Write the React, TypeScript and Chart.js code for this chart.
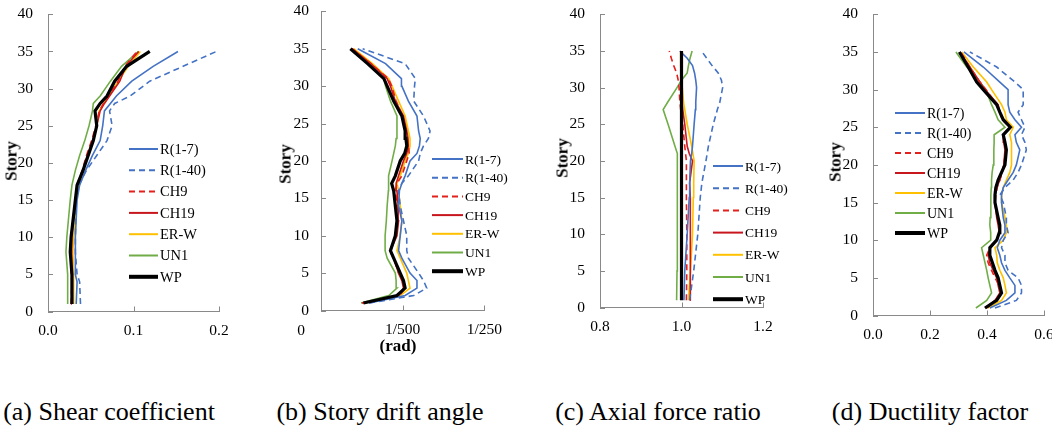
import { useEffect, useRef } from "react";
import { Chart, registerables } from "chart.js";

Chart.register(...registerables);

const SERIES = ["R(1-7)", "R(1-40)", "CH9", "CH19", "ER-W", "UN1", "WP"];
const COLORS = ["#4472C4", "#4472C4", "#E3201C", "#C8161D", "#FFC000", "#70AD47", "#000000"];
const DASHED = [false, true, true, false, false, false, false];
const STORY_TICKS = [0, 5, 10, 15, 20, 25, 30, 35, 40];

// (a) shear coefficient
const SHEAR_STORIES = [1, 4, 5, 8, 10, 15, 17, 19, 21, 23, 25, 27, 28, 29, 31, 33, 35];
const SHEAR_R17 = [0.033, 0.034, 0.032, 0.032, 0.032, 0.034, 0.037, 0.044, 0.052, 0.061, 0.064, 0.066, 0.073, 0.08, 0.098, 0.123, 0.152];
const SHEAR_R140 = [0.038, 0.037, 0.034, 0.032, 0.032, 0.033, 0.036, 0.045, 0.057, 0.069, 0.075, 0.072, 0.078, 0.096, 0.119, 0.158, 0.197];
const SHEAR_CH9 = [0.027, 0.028, 0.027, 0.027, 0.027, 0.032, 0.034, 0.04, 0.045, 0.051, 0.056, 0.06, 0.065, 0.071, 0.082, 0.09, 0.104];
const SHEAR_CH19 = [0.028, 0.028, 0.028, 0.027, 0.028, 0.032, 0.034, 0.041, 0.046, 0.052, 0.057, 0.061, 0.066, 0.072, 0.084, 0.091, 0.106];
const SHEAR_ERW = [0.03, 0.03, 0.03, 0.029, 0.03, 0.033, 0.036, 0.041, 0.047, 0.053, 0.057, 0.06, 0.065, 0.071, 0.082, 0.094, 0.108];
const SHEAR_UN1 = [0.023, 0.023, 0.023, 0.021, 0.022, 0.026, 0.028, 0.032, 0.037, 0.043, 0.048, 0.052, 0.053, 0.061, 0.073, 0.086, 0.106];
const SHEAR_WP = [0.028, 0.028, 0.028, 0.026, 0.027, 0.032, 0.034, 0.041, 0.047, 0.053, 0.057, 0.055, 0.061, 0.069, 0.078, 0.092, 0.119];
const SHEAR_TICKS = [0, 0.1, 0.2];

// (b) story drift angle, in 1/1000 rad
const DRIFT_STORIES = [1, 2, 3, 4, 5, 7, 8, 10, 12, 14, 16, 17, 18, 20, 21, 22, 23, 24, 26, 28, 30, 31, 33, 35];
const DRIFT_R17 = [1.18, 2.06, 2.35, 2.35, 2.18, 1.98, 1.9, 1.94, 1.98, 1.9, 1.92, 1.98, 2.06, 2.18, 2.35, 2.41, 2.43, 2.39, 2.35, 2.14, 1.98, 1.97, 1.58, 0.9];
const DRIFT_R140 = [1.18, 2.27, 2.59, 2.51, 2.39, 2.14, 2.1, 2.1, 2.02, 1.94, 1.9, 1.98, 2.14, 2.39, 2.43, 2.51, 2.63, 2.67, 2.51, 2.27, 2.29, 2.31, 2.06, 1.02];
const DRIFT_CH9 = [1.0, 1.92, 2.06, 2.0, 1.9, 1.78, 1.68, 1.84, 1.89, 1.87, 1.82, 1.86, 1.98, 2.1, 2.16, 2.14, 2.1, 2.06, 2.0, 1.84, 1.73, 1.65, 1.22, 0.76];
const DRIFT_CH19 = [1.02, 1.9, 2.02, 1.98, 1.9, 1.78, 1.7, 1.86, 1.9, 1.89, 1.86, 1.84, 1.9, 2.02, 2.1, 2.14, 2.13, 2.1, 2.02, 1.82, 1.7, 1.62, 1.22, 0.76];
const DRIFT_ERW = [1.06, 1.94, 2.18, 2.14, 2.1, 1.94, 1.86, 1.94, 1.98, 1.94, 1.9, 1.86, 1.94, 2.06, 2.14, 2.18, 2.18, 2.14, 2.06, 1.9, 1.74, 1.66, 1.26, 0.8];
const DRIFT_UN1 = [0.98, 1.66, 1.86, 1.84, 1.82, 1.62, 1.57, 1.57, 1.6, 1.62, 1.65, 1.65, 1.66, 1.74, 1.78, 1.82, 1.84, 1.86, 1.86, 1.7, 1.58, 1.54, 1.18, 0.74];
const DRIFT_WP = [1.04, 1.86, 2.06, 2.02, 1.94, 1.78, 1.7, 1.82, 1.86, 1.82, 1.78, 1.73, 1.82, 1.94, 2.05, 2.1, 2.08, 2.06, 1.98, 1.78, 1.62, 1.54, 1.14, 0.72];
const DRIFT_TICKS = [0, 2, 4];
const DRIFT_LABELS = ["", "1/500", "1/250"];

// (c) axial force ratio
const AXIAL_STORIES = [1, 5, 10, 15, 17, 20, 21, 22, 25, 27, 28, 30, 31, 32, 33, 34, 35];
const AXIAL_R17 = [1.006, 1.008, 1.014, 1.019, 1.02, 1.022, 1.025, 1.027, 1.031, 1.034, 1.035, 1.037, 1.035, 1.032, 1.027, 1.014, 0.996];
const AXIAL_R140 = [1.02, 1.03, 1.04, 1.046, 1.05, 1.06, 1.063, 1.066, 1.078, 1.088, 1.094, 1.101, 1.098, 1.09, 1.075, 1.062, 1.049];
const AXIAL_CH9 = [1.012, 1.013, 1.013, 1.012, 1.012, 1.012, 1.01, 1.008, 1.003, 0.998, 0.996, 0.994, 0.992, 0.988, 0.981, 0.975, 0.97];
const AXIAL_CH19 = [1.023, 1.022, 1.022, 1.021, 1.02, 1.027, 1.019, 1.014, 1.008, 1.003, 1.001, 1.0, 1.0, 1.0, 1.0, 1.0, 1.0];
const AXIAL_ERW = [1.017, 1.022, 1.027, 1.029, 1.03, 1.031, 1.028, 1.025, 1.014, 1.008, 1.005, 1.002, 1.0, 0.999, 0.998, 0.998, 0.998];
const AXIAL_UN1 = [0.988, 0.989, 0.989, 0.99, 0.99, 0.99, 0.99, 0.984, 0.967, 0.955, 0.966, 0.989, 1.0, 1.014, 1.017, 1.021, 1.026];
const AXIAL_WP = [1.0, 1.0, 1.0, 1.0, 1.0, 1.0, 1.0, 1.0, 1.0, 1.0, 1.0, 1.0, 1.0, 1.0, 1.0, 1.0, 1.0];
const AXIAL_TICKS = [0.8, 1.0, 1.2];

// (d) ductility factor
const DUCT_STORIES = [1, 2, 3, 4, 5, 6, 7, 8, 9, 10, 11, 12, 13, 15, 16, 17, 18, 19, 20, 22, 23, 24, 25, 26, 27, 28, 30, 31, 33, 35];
const DUCT_R17 = [0.41, 0.468, 0.498, 0.498, 0.48, 0.463, 0.451, 0.445, 0.436, 0.445, 0.463, 0.463, 0.457, 0.451, 0.451, 0.457, 0.474, 0.492, 0.503, 0.515, 0.503, 0.498, 0.521, 0.498, 0.48, 0.474, 0.474, 0.445, 0.387, 0.319];
const DUCT_R140 = [0.428, 0.503, 0.521, 0.521, 0.509, 0.474, 0.463, 0.463, 0.451, 0.457, 0.474, 0.468, 0.468, 0.457, 0.445, 0.463, 0.492, 0.509, 0.521, 0.538, 0.533, 0.521, 0.533, 0.521, 0.509, 0.527, 0.527, 0.498, 0.434, 0.34];
const DUCT_CH9 = [0.399, 0.431, 0.447, 0.443, 0.428, 0.416, 0.404, 0.399, 0.41, 0.436, 0.443, 0.443, 0.436, 0.428, 0.431, 0.436, 0.445, 0.454, 0.459, 0.466, 0.463, 0.459, 0.48, 0.454, 0.445, 0.436, 0.396, 0.375, 0.34, 0.308];
const DUCT_CH19 = [0.393, 0.428, 0.445, 0.439, 0.434, 0.422, 0.41, 0.404, 0.413, 0.434, 0.443, 0.439, 0.434, 0.428, 0.428, 0.434, 0.445, 0.452, 0.459, 0.463, 0.459, 0.457, 0.48, 0.457, 0.445, 0.439, 0.393, 0.375, 0.34, 0.305];
const DUCT_ERW = [0.404, 0.451, 0.468, 0.463, 0.457, 0.445, 0.436, 0.434, 0.428, 0.457, 0.468, 0.468, 0.463, 0.451, 0.451, 0.457, 0.468, 0.48, 0.486, 0.486, 0.486, 0.48, 0.492, 0.468, 0.463, 0.451, 0.416, 0.399, 0.352, 0.311];
const DUCT_UN1 = [0.361, 0.399, 0.416, 0.41, 0.404, 0.399, 0.393, 0.387, 0.381, 0.413, 0.413, 0.41, 0.411, 0.413, 0.414, 0.415, 0.416, 0.418, 0.422, 0.424, 0.425, 0.425, 0.463, 0.439, 0.428, 0.416, 0.396, 0.375, 0.329, 0.291];
const DUCT_WP = [0.393, 0.434, 0.451, 0.445, 0.439, 0.428, 0.419, 0.41, 0.41, 0.434, 0.443, 0.445, 0.439, 0.428, 0.428, 0.431, 0.439, 0.451, 0.463, 0.468, 0.463, 0.457, 0.482, 0.457, 0.445, 0.434, 0.387, 0.364, 0.334, 0.303];
const DUCT_TICKS = [0, 0.2, 0.4, 0.6];

const SERIF = "'Liberation Serif', 'Times New Roman', serif";
const AXIS = "#898989";

interface Area { left: number; right: number; top: number; bottom: number }
interface LegendSpec { x: number; y: number; gap: number; len: number; font: number }
interface PanelSpec {
  stories: number[];
  series: number[][];
  xTicks: number[];
  xLabel: (v: number, i: number) => string;
  area: Area;
  yPad: number;
  legend: LegendSpec;
}

const PANELS: PanelSpec[] = [
  {
    stories: SHEAR_STORIES,
    series: [SHEAR_R17, SHEAR_R140, SHEAR_CH9, SHEAR_CH19, SHEAR_ERW, SHEAR_UN1, SHEAR_WP],
    xTicks: SHEAR_TICKS,
    xLabel: (v) => v.toFixed(1),
    area: { left: 48, right: 219, top: 6, bottom: 311.5 },
    yPad: 15,
    legend: { x: 129, y: 149, gap: 21.3, len: 29, font: 14.5 },
  },
  {
    stories: DRIFT_STORIES,
    series: [DRIFT_R17, DRIFT_R140, DRIFT_CH9, DRIFT_CH19, DRIFT_ERW, DRIFT_UN1, DRIFT_WP],
    xTicks: DRIFT_TICKS,
    xLabel: (_v, i) => DRIFT_LABELS[i],
    area: { left: 321, right: 487, top: 6, bottom: 310.5 },
    yPad: 12,
    legend: { x: 432, y: 159, gap: 18.7, len: 31, font: 13.5 },
  },
  {
    stories: AXIAL_STORIES,
    series: [AXIAL_R17, AXIAL_R140, AXIAL_CH9, AXIAL_CH19, AXIAL_ERW, AXIAL_UN1, AXIAL_WP],
    xTicks: AXIAL_TICKS,
    xLabel: (v) => v.toFixed(1),
    area: { left: 600, right: 763, top: 5.5, bottom: 307.5 },
    yPad: 15,
    legend: { x: 713, y: 166, gap: 22.2, len: 30, font: 13.5 },
  },
  {
    stories: DUCT_STORIES,
    series: [DUCT_R17, DUCT_R140, DUCT_CH9, DUCT_CH19, DUCT_ERW, DUCT_UN1, DUCT_WP],
    xTicks: DUCT_TICKS,
    xLabel: (v) => v.toFixed(1),
    area: { left: 873, right: 1044, top: 6, bottom: 315.5 },
    yPad: 15,
    legend: { x: 895, y: 113, gap: 20, len: 30, font: 14 },
  },
];

const C_TOP = -10;
const C_HEIGHT = 370;
const Y_AXIS_W = 40;
const X_AXIS_H = 30;

function Panel({ spec }: { spec: PanelSpec }) {
  const canvasRef = useRef<HTMLCanvasElement>(null);
  const { area } = spec;
  const cLeft = area.left - 60;
  const cWidth = area.right + 25 - cLeft;

  useEffect(() => {
    if (!canvasRef.current) return;

    const insideTicks = {
      id: "insideTicks",
      beforeDatasetsDraw(chart: any) {
        const { ctx, chartArea, scales } = chart;
        ctx.save();
        ctx.strokeStyle = AXIS;
        ctx.lineWidth = 1;
        ctx.beginPath();
        scales.x.ticks.forEach((t: any) => {
          const px = Math.round(scales.x.getPixelForValue(t.value)) + 0.5;
          ctx.moveTo(px, chartArea.bottom);
          ctx.lineTo(px, chartArea.bottom - 5);
        });
        scales.y.ticks.forEach((t: any) => {
          const py = Math.round(scales.y.getPixelForValue(t.value)) + 0.5;
          ctx.moveTo(chartArea.left, py);
          ctx.lineTo(chartArea.left + 5, py);
        });
        ctx.stroke();
        ctx.restore();
      },
    };

    const inlineLegend = {
      id: "inlineLegend",
      afterDatasetsDraw(chart: any) {
        const ctx = chart.ctx;
        const lg = spec.legend;
        ctx.save();
        ctx.font = `${lg.font}px ${SERIF}`;
        ctx.textBaseline = "middle";
        ctx.fillStyle = "#000";
        SERIES.forEach((name, i) => {
          const x = lg.x - cLeft;
          const y = lg.y - C_TOP + i * lg.gap;
          ctx.beginPath();
          ctx.strokeStyle = COLORS[i];
          ctx.lineWidth = i === 6 ? 4 : 2;
          ctx.setLineDash(DASHED[i] ? [6, 4] : []);
          ctx.moveTo(x, y);
          ctx.lineTo(x + lg.len, y);
          ctx.stroke();
          ctx.setLineDash([]);
          ctx.fillText(name, x + lg.len + 2, y + 1);
        });
        ctx.restore();
      },
    };

    const tickFont = { family: SERIF, size: 15.5 };
    const xs = spec.xTicks;

    const chart = new Chart(canvasRef.current, {
      type: "scatter",
      data: {
        datasets: SERIES.map((name, i) => ({
          label: name,
          data: spec.stories.map((s, k) => ({ x: spec.series[i][k], y: s })),
          showLine: true,
          borderColor: COLORS[i],
          backgroundColor: COLORS[i],
          borderWidth: i === 6 ? 3.2 : 1.6,
          borderDash: DASHED[i] ? [6, 4] : [],
          pointRadius: 0,
          order: i === 6 ? 0 : 1,
        })),
      },
      options: {
        responsive: false,
        animation: false,
        layout: {
          autoPadding: false,
          padding: {
            left: 60 - Y_AXIS_W,
            right: 25,
            top: area.top - C_TOP,
            bottom: C_HEIGHT + C_TOP - area.bottom - X_AXIS_H,
          },
        },
        scales: {
          x: {
            type: "linear",
            min: xs[0],
            max: xs[xs.length - 1],
            afterBuildTicks: (s: any) => {
              s.ticks = xs.map((v) => ({ value: v }));
            },
            afterFit: (s: any) => {
              s.height = X_AXIS_H;
            },
            grid: { display: true, drawOnChartArea: false, drawTicks: false },
            border: { display: true, color: AXIS, width: 1 },
            ticks: {
              padding: 10,
              color: "#000",
              font: tickFont,
              maxRotation: 0,
              autoSkip: false,
              callback: (v: any) => {
                const i = xs.findIndex((t) => Math.abs(t - Number(v)) < 1e-9);
                return spec.xLabel(Number(v), i);
              },
            },
          },
          y: {
            type: "linear",
            min: 0,
            max: 40,
            afterBuildTicks: (s: any) => {
              s.ticks = STORY_TICKS.map((v) => ({ value: v }));
            },
            afterFit: (s: any) => {
              s.width = Y_AXIS_W;
            },
            grid: { display: true, drawOnChartArea: false, drawTicks: false },
            border: { display: true, color: AXIS, width: 1 },
            ticks: { padding: spec.yPad, color: "#000", font: tickFont, autoSkip: false },
          },
        },
        plugins: { legend: { display: false }, tooltip: { enabled: false } },
      },
      plugins: [insideTicks, inlineLegend],
    } as any);

    return () => chart.destroy();
  }, [spec]);

  return (
    <canvas
      ref={canvasRef}
      width={cWidth}
      height={C_HEIGHT}
      style={{ position: "absolute", left: cLeft, top: C_TOP, width: cWidth, height: C_HEIGHT }}
    />
  );
}

const CAPTIONS = ["(a) Shear coefficient", "(b) Story drift angle", "(c) Axial force ratio", "(d) Ductility factor"];
const CAPTION_X = [109, 380, 658, 930];
const STORY_LABEL_POS = [
  [10.5, 161],
  [285, 164],
  [562, 158],
  [835, 162],
];

export default function App() {
  return (
    <div
      style={{
        position: "absolute",
        left: 0,
        top: 0,
        width: 1052,
        height: 428,
        overflow: "hidden",
        background: "#fff",
        fontFamily: SERIF,
        color: "#000",
      }}
    >
      {PANELS.map((p, i) => (
        <Panel key={i} spec={p} />
      ))}
      {STORY_LABEL_POS.map(([x, y], i) => (
        <div
          key={`s${i}`}
          style={{
            position: "absolute",
            left: x,
            top: y,
            transform: "translate(-50%, -50%) rotate(-90deg)",
            fontWeight: "bold",
            fontSize: 17,
            lineHeight: "17px",
            whiteSpace: "nowrap",
          }}
        >
          Story
        </div>
      ))}
      <div
        style={{
          position: "absolute",
          left: 398,
          top: 345,
          transform: "translate(-50%, -50%)",
          fontWeight: "bold",
          fontSize: 17,
          lineHeight: "17px",
        }}
      >
        (rad)
      </div>
      <div
        style={{
          position: "absolute",
          left: 301,
          top: 330,
          transform: "translate(-50%, -50%)",
          fontSize: 15.5,
          lineHeight: "16px",
        }}
      >
        0
      </div>
      {CAPTIONS.map((c, i) => (
        <div
          key={`c${i}`}
          style={{
            position: "absolute",
            left: CAPTION_X[i],
            top: 399,
            transform: "translateX(-50%)",
            fontSize: 26,
            lineHeight: "26px",
            whiteSpace: "nowrap",
          }}
        >
          {c}
        </div>
      ))}
    </div>
  );
}
